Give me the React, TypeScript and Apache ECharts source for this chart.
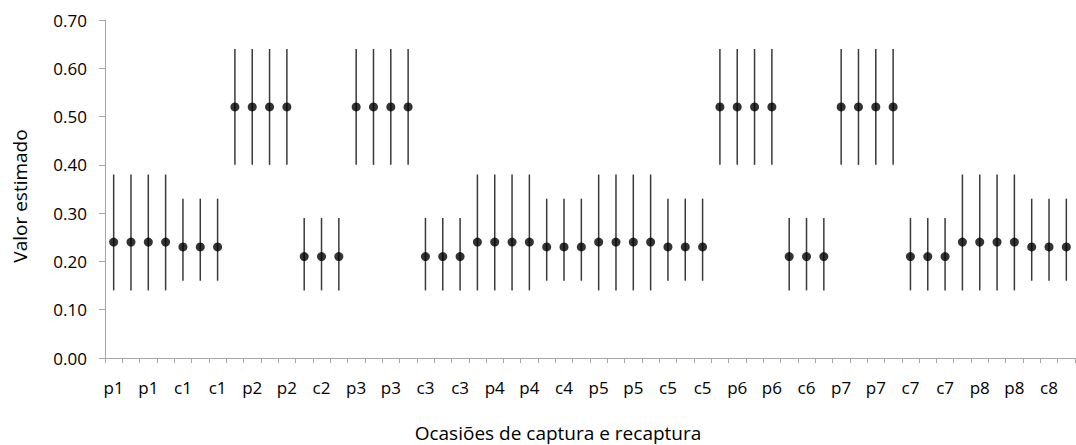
import React, { useEffect, useRef } from "react";
import * as echarts from "echarts";

const categories: string[] = [
  "p1", "p1", "p1", "p1", "c1", "c1", "c1",
  "p2", "p2", "p2", "p2", "c2", "c2", "c2",
  "p3", "p3", "p3", "p3", "c3", "c3", "c3",
  "p4", "p4", "p4", "p4", "c4", "c4", "c4",
  "p5", "p5", "p5", "p5", "c5", "c5", "c5",
  "p6", "p6", "p6", "p6", "c6", "c6", "c6",
  "p7", "p7", "p7", "p7", "c7", "c7", "c7",
  "p8", "p8", "p8", "p8", "c8", "c8", "c8",
];

const estimates: number[] = [
  0.24, 0.24, 0.24, 0.24, 0.23, 0.23, 0.23,
  0.52, 0.52, 0.52, 0.52, 0.21, 0.21, 0.21,
  0.52, 0.52, 0.52, 0.52, 0.21, 0.21, 0.21,
  0.24, 0.24, 0.24, 0.24, 0.23, 0.23, 0.23,
  0.24, 0.24, 0.24, 0.24, 0.23, 0.23, 0.23,
  0.52, 0.52, 0.52, 0.52, 0.21, 0.21, 0.21,
  0.52, 0.52, 0.52, 0.52, 0.21, 0.21, 0.21,
  0.24, 0.24, 0.24, 0.24, 0.23, 0.23, 0.23,
];

const lower: number[] = [
  0.14, 0.14, 0.14, 0.14, 0.16, 0.16, 0.16,
  0.40, 0.40, 0.40, 0.40, 0.14, 0.14, 0.14,
  0.40, 0.40, 0.40, 0.40, 0.14, 0.14, 0.14,
  0.14, 0.14, 0.14, 0.14, 0.16, 0.16, 0.16,
  0.14, 0.14, 0.14, 0.14, 0.16, 0.16, 0.16,
  0.40, 0.40, 0.40, 0.40, 0.14, 0.14, 0.14,
  0.40, 0.40, 0.40, 0.40, 0.14, 0.14, 0.14,
  0.14, 0.14, 0.14, 0.14, 0.16, 0.16, 0.16,
];

const upper: number[] = [
  0.38, 0.38, 0.38, 0.38, 0.33, 0.33, 0.33,
  0.64, 0.64, 0.64, 0.64, 0.29, 0.29, 0.29,
  0.64, 0.64, 0.64, 0.64, 0.29, 0.29, 0.29,
  0.38, 0.38, 0.38, 0.38, 0.33, 0.33, 0.33,
  0.38, 0.38, 0.38, 0.38, 0.33, 0.33, 0.33,
  0.64, 0.64, 0.64, 0.64, 0.29, 0.29, 0.29,
  0.64, 0.64, 0.64, 0.64, 0.29, 0.29, 0.29,
  0.38, 0.38, 0.38, 0.38, 0.33, 0.33, 0.33,
];

const X_TITLE = "Ocasiões de captura e recaptura";
const Y_TITLE = "Valor estimado";

const FONT = "Open Sans";

export default function App() {
  const ref = useRef<HTMLDivElement>(null);

  useEffect(() => {
    document.body.style.margin = "0";
    if (!ref.current) return;
    const chart = echarts.init(ref.current, null, { renderer: "svg" });
    const errData = categories.map((_, i) => [i, lower[i], upper[i]]);
    const ptData = categories.map((_, i) => [i, estimates[i]]);
    chart.setOption({
      animation: false,
      backgroundColor: "#ffffff",
      grid: { left: 105, right: 1, top: 20, bottom: 87, containLabel: false },
      graphic: [
        {
          type: "text",
          x: 558,
          y: 433,
          style: {
            text: X_TITLE,
            fontFamily: FONT,
            fontSize: 19,
            fill: "#000",
            align: "center",
            verticalAlign: "middle",
          },
        },
        {
          type: "text",
          x: 20,
          y: 196,
          rotation: Math.PI / 2,
          style: {
            text: Y_TITLE,
            fontFamily: FONT,
            fontSize: 19,
            fill: "#000",
            align: "center",
            verticalAlign: "middle",
          },
        },
      ],
      xAxis: {
        type: "category",
        data: categories,
        boundaryGap: true,
        axisLine: { show: true, lineStyle: { color: "#a6a6a6", width: 1 } },
        axisTick: { show: true, interval: 0, length: 5, lineStyle: { color: "#a6a6a6" } },
        axisLabel: {
          interval: 1,
          margin: 21,
          fontFamily: FONT,
          fontSize: 17,
          color: "#000",
        },
        splitLine: { show: false },
      },
      yAxis: {
        type: "value",
        min: 0,
        max: 0.7,
        interval: 0.1,
        axisLine: { show: true, lineStyle: { color: "#a6a6a6", width: 1 } },
        axisTick: { show: true, length: 6, inside: false, lineStyle: { color: "#a6a6a6" } },
        axisLabel: {
          margin: 18,
          fontFamily: FONT,
          fontSize: 17,
          color: "#000",
          formatter: (v: number) => v.toFixed(2),
        },
        splitLine: { show: false },
      },
      series: [
        {
          type: "custom",
          data: errData,
          encode: { x: 0, y: [1, 2] },
          renderItem: (params: any, api: any) => {
            const x = api.value(0);
            const lo = api.coord([x, api.value(1)]);
            const hi = api.coord([x, api.value(2)]);
            return {
              type: "line",
              shape: { x1: lo[0], y1: lo[1], x2: hi[0], y2: hi[1] },
              style: { stroke: "#3a3a3a", lineWidth: 1.5 },
            };
          },
          z: 1,
        },
        {
          type: "scatter",
          data: ptData,
          symbol: "circle",
          symbolSize: 9,
          itemStyle: { color: "#000000" },
          z: 2,
        },
      ],
    });
    return () => chart.dispose();
  }, []);

  return <div ref={ref} style={{ width: 1076, height: 445 }} />;
}
